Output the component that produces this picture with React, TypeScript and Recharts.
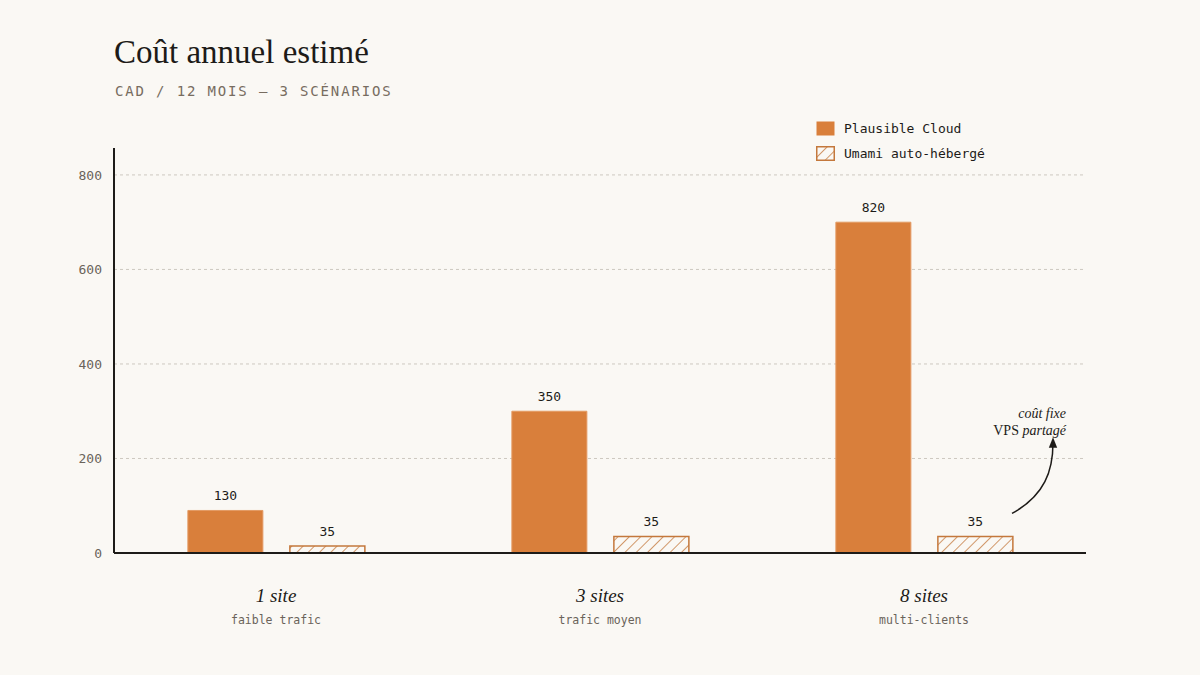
import React from "react";
import {
  BarChart,
  Bar,
  XAxis,
  YAxis,
  CartesianGrid,
  LabelList,
  ReferenceDot,
} from "recharts";

const categories = ["1 site", "3 sites", "8 sites"];
const subtitles = ["faible trafic", "trafic moyen", "multi-clients"];
// bar heights as drawn in the reference, and the printed labels
const plausibleHeights = [90, 300, 700];
const plausibleLabels = [130, 350, 820];
const umamiHeights = [15, 35, 35];
const umamiLabels = [35, 35, 35];
const yTicks = [0, 200, 400, 600, 800];

const BG = "#faf8f4";
const ORANGE = "#d97f3b";
const HATCH = "#c4783c";
const INK = "#1d1b18";
const MUTED = "#6a635a";
const MONO = "'DejaVu Sans Mono', 'Liberation Mono', monospace";
const SERIF = "'Liberation Serif', 'DejaVu Serif', serif";

const data = categories.map((c, i) => ({
  name: c,
  sub: subtitles[i],
  plausible: plausibleHeights[i],
  umami: umamiHeights[i],
}));

function CategoryTick({ x, y, payload, index }: any) {
  return (
    <g transform={`translate(${x},${y})`}>
      <text x={0} y={41} textAnchor="middle" fontFamily={SERIF} fontStyle="italic" fontSize={19} fill={INK}>
        {payload.value}
      </text>
      <text x={0} y={63} textAnchor="middle" fontFamily={MONO} fontSize={11.5} fill={MUTED}>
        {subtitles[index] ?? data[index]?.sub}
      </text>
    </g>
  );
}

function valueLabel(labels: number[]) {
  return function ValueLabel({ x, y, width, index }: any) {
    return (
      <text x={x + width / 2} y={y - 10} textAnchor="middle" fontFamily={MONO} fontSize={13} fill={INK}>
        {labels[index]}
      </text>
    );
  };
}

function LegendBox() {
  const row = { display: "flex", alignItems: "center", gap: 9, height: 25 } as const;
  return (
    <div style={{ position: "absolute", left: 816, top: 116, fontFamily: MONO, fontSize: 13, color: INK }}>
      <div style={row}>
        <svg width={19} height={15}>
          <rect x={0.5} y={0.5} width={18} height={14} fill={ORANGE} />
        </svg>
        <span>Plausible Cloud</span>
      </div>
      <div style={row}>
        <svg width={19} height={15}>
          <rect x={0.75} y={0.75} width={17.5} height={13.5} fill="url(#hatch)" stroke={HATCH} strokeWidth={1.5} />
        </svg>
        <span>Umami auto-hébergé</span>
      </div>
    </div>
  );
}

function Annotation({ cx, cy }: any) {
  if (cx == null || cy == null) return null;
  return (
    <g>
      <path
        d={`M ${cx + 88} ${cy - 23} C ${cx + 121} ${cy - 41}, ${cx + 129} ${cy - 66}, ${cx + 129} ${cy - 94}`}
        fill="none"
        stroke={INK}
        strokeWidth={1.5}
        markerEnd="url(#arrowHead)"
      />
      <text x={cx + 142} y={cy - 118} textAnchor="end" fontFamily={SERIF} fontStyle="italic" fontSize={14} fill={INK}>
        coût fixe
      </text>
      <text x={cx + 142} y={cy - 101} textAnchor="end" fontFamily={SERIF} fontSize={14} fill={INK}>
        VPS <tspan fontStyle="italic">partagé</tspan>
      </text>
    </g>
  );
}

export default function App() {
  return (
    <div style={{ position: "fixed", left: 0, top: 0, width: 1200, height: 675, background: BG, overflow: "hidden" }}>
      <div style={{ position: "absolute", left: 114, top: 36, fontFamily: SERIF, fontSize: 33, color: INK, lineHeight: 1 }}>
        Coût annuel estimé
      </div>
      <div
        style={{
          position: "absolute",
          left: 115,
          top: 84,
          fontFamily: MONO,
          fontSize: 14,
          letterSpacing: 1.85,
          color: "#776c60",
          lineHeight: 1,
        }}
      >
        CAD / 12 MOIS — 3 SCÉNARIOS
      </div>
      <BarChart
        width={1200}
        height={675}
        data={data}
        margin={{ top: 148, right: 114, left: 74, bottom: 42 }}
        barCategoryGap="22.8%"
        barGap={27}
      >
        <defs>
          <pattern id="hatch" patternUnits="userSpaceOnUse" width={8} height={8} patternTransform="rotate(45)">
            <rect width={8} height={8} fill={BG} />
            <line x1={0} y1={0} x2={0} y2={8} stroke={HATCH} strokeWidth={1.5} />
          </pattern>
          <marker id="arrowHead" viewBox="0 0 10 10" refX={5} refY={5} markerWidth={7} markerHeight={7} orient="auto">
            <path d="M 0 1 L 10 5 L 0 9 z" fill={INK} />
          </marker>
        </defs>
        <CartesianGrid stroke="#cdc8c0" strokeDasharray="3 3" vertical={false} syncWithTicks />
        <XAxis
          dataKey="name"
          tick={<CategoryTick />}
          tickLine={false}
          axisLine={{ stroke: INK, strokeWidth: 2 }}
          height={80}
          interval={0}
        />
        <YAxis
          domain={[0, 857]}
          ticks={yTicks}
          tickLine={false}
          axisLine={{ stroke: INK, strokeWidth: 2 }}
          tick={{ fontFamily: MONO, fontSize: 13, fill: MUTED }}
          tickMargin={6}
          width={40}
        />
        <Bar dataKey="plausible" name="Plausible Cloud" fill={ORANGE} stroke="#e39a63" strokeWidth={1} isAnimationActive={false}>
          <LabelList dataKey="plausible" content={valueLabel(plausibleLabels)} />
        </Bar>
        <Bar dataKey="umami" name="Umami auto-hébergé" fill="url(#hatch)" stroke={HATCH} strokeWidth={1.5} isAnimationActive={false}>
          <LabelList dataKey="umami" content={valueLabel(umamiLabels)} />
        </Bar>
        <ReferenceDot x={categories[2]} y={umamiHeights[2]} shape={<Annotation />} ifOverflow="visible" />
      </BarChart>
      <LegendBox />
    </div>
  );
}
